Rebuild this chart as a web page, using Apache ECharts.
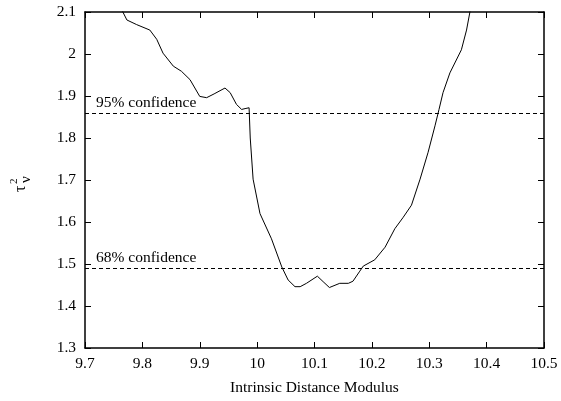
<!DOCTYPE html>
<html>
<head>
<meta charset="utf-8">
<script src="https://cdn.jsdelivr.net/npm/echarts@6/dist/echarts.min.js"></script>
<style>html,body{margin:0;padding:0;background:#fff;}#c{width:561px;height:401px;}</style>
</head>
<body>
<div id="c"></div>
<script>
var xValues = [9.760, 9.766, 9.773, 9.790, 9.813, 9.825, 9.836, 9.854, 9.868, 9.883, 9.900, 9.912, 9.925, 9.944, 9.953, 9.964, 9.973, 9.979, 9.986, 9.988, 9.993, 10.005, 10.025, 10.043, 10.054, 10.066, 10.075, 10.086, 10.105, 10.115, 10.126, 10.144, 10.159, 10.167, 10.179, 10.185, 10.205, 10.223, 10.240, 10.254, 10.269, 10.284, 10.298, 10.310, 10.317, 10.324, 10.336, 10.356, 10.365, 10.371, 10.373];
var chi2Values = [2.115, 2.100, 2.081, 2.070, 2.057, 2.035, 2.002, 1.971, 1.959, 1.939, 1.899, 1.896, 1.905, 1.919, 1.908, 1.880, 1.868, 1.870, 1.872, 1.800, 1.702, 1.620, 1.560, 1.493, 1.462, 1.446, 1.446, 1.454, 1.471, 1.458, 1.444, 1.454, 1.454, 1.459, 1.483, 1.495, 1.510, 1.540, 1.584, 1.610, 1.640, 1.702, 1.766, 1.829, 1.868, 1.908, 1.955, 2.010, 2.057, 2.101, 2.115];
var confLevels = [1.865, 1.494];
var confLabels = ["95% confidence", "68% confidence"];
var xTicks = [9.7, 9.8, 9.9, 10, 10.1, 10.2, 10.3, 10.4, 10.5];
var yTicks = [1.3, 1.4, 1.5, 1.6, 1.7, 1.8, 1.9, 2, 2.1];

var FONT = '"Liberation Serif", "DejaVu Serif", serif';
var FS = 15.5;
var pts = xValues.map(function (x, i) { return [x, chi2Values[i]]; });

var chart = echarts.init(document.getElementById('c'), null, {renderer: 'canvas'});
var axLine = {show: true, onZero: false, lineStyle: {color: '#000', width: 1.5}};
var tick = {show: true, inside: true, length: 6, lineStyle: {color: '#000', width: 1}};
chart.setOption({
  animation: false,
  backgroundColor: '#fff',
  grid: {left: 85, right: 17, top: 12, bottom: 51, containLabel: false},
  xAxis: [{
    type: 'value', min: xTicks[0], max: xTicks[xTicks.length - 1], interval: 0.1,
    position: 'bottom',
    axisLine: axLine, axisTick: tick, splitLine: {show: false},
    axisLabel: {color: '#000', fontFamily: FONT, fontSize: FS, margin: 8,
      formatter: function (v) { return String(Math.round(v * 10) / 10); }},
    name: 'Intrinsic Distance Modulus', nameLocation: 'middle', nameGap: 32,
    nameTextStyle: {color: '#000', fontFamily: FONT, fontSize: FS}
  }, {
    type: 'value', min: xTicks[0], max: xTicks[xTicks.length - 1], interval: 0.1,
    position: 'top',
    axisLine: axLine, axisTick: tick, splitLine: {show: false}, axisLabel: {show: false}
  }],
  yAxis: [{
    type: 'value', min: yTicks[0], max: yTicks[yTicks.length - 1], interval: 0.1,
    position: 'left',
    axisLine: axLine, axisTick: tick, splitLine: {show: false},
    axisLabel: {color: '#000', fontFamily: FONT, fontSize: FS, margin: 9,
      formatter: function (v) { return String(Math.round(v * 10) / 10); }}
  }, {
    type: 'value', min: yTicks[0], max: yTicks[yTicks.length - 1], interval: 0.1,
    position: 'right',
    axisLine: axLine, axisTick: tick, splitLine: {show: false}, axisLabel: {show: false}
  }],
  series: [{
    type: 'line', data: pts, showSymbol: false, symbol: 'none', clip: true,
    lineStyle: {color: '#000', width: 1},
    markLine: {
      silent: true, symbol: 'none',
      lineStyle: {color: '#000', width: 1, type: [4, 3]},
      label: {show: true, position: 'insideStartTop', distance: [11, 2],
        color: '#000', fontFamily: FONT, fontSize: FS,
        formatter: function (p) { return p.name; }},
      data: confLevels.map(function (v, i) { return {yAxis: v, name: confLabels[i]}; })
    }
  }],
  graphic: [{
    type: 'group', x: 21, y: 183, rotation: Math.PI / 2,
    children: [
      {type: 'text', x: -9, y: 0, style: {text: 'τ', fill: '#000', font: '16px ' + FONT, textVerticalAlign: 'middle'}},
      {type: 'text', x: -1, y: -7, style: {text: '2', fill: '#000', font: '11px ' + FONT, textVerticalAlign: 'middle'}},
      {type: 'text', x: 0, y: 5, style: {text: 'ν', fill: '#000', font: '15px ' + FONT, textVerticalAlign: 'middle'}}
    ]
  }]
});
</script>
</body>
</html>
